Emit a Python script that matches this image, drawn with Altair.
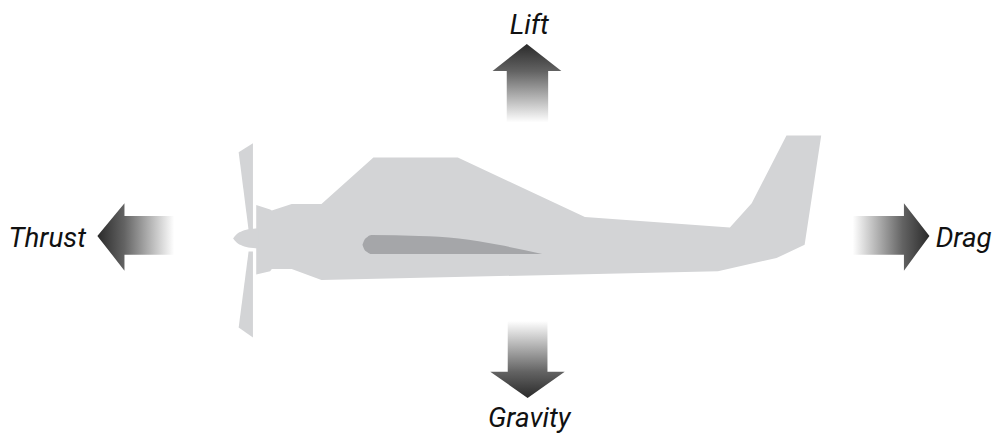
import altair as alt
import pandas as pd

# ---- airplane silhouette outline (light grey), vertices in drawing order (y grows downward)
body_x = [256, 270, 271.7, 291.7, 321.7, 374, 459, 587, 733, 755, 790, 825,
          808.3, 780, 721, 321.7, 291.7, 271.7, 270, 256]
body_y = [205, 209.3, 210.5, 204, 204, 157, 157, 217, 227.5, 203, 135, 135,
          245, 258.3, 271.5, 280.5, 269.3, 269.3, 271.7, 275]

blade_up_x = [238.3, 252.7, 252.7, 248.3]
blade_up_y = [151.7, 142.7, 230, 230]

blade_low_x = [248.3, 252.7, 252.7, 238.3]
blade_low_y = [251.7, 251.7, 338.3, 328.3]

# spinner and wing: x, top edge y, bottom edge y (smooth outlines)
spinner_x = [232.7, 236, 242, 250, 258]
spinner_top = [238.5, 234.5, 231, 229, 228.5]
spinner_bottom = [238.5, 242.5, 246, 248, 248.5]

wing_x = [363, 365, 368, 372, 420, 460, 500, 544]
wing_top = [245, 240, 237, 235.2, 236, 238.5, 245, 254.3]
wing_bottom = [245, 250, 252.5, 254.3, 254.3, 254.3, 254.3, 254.3]

# ---- force arrows (vertices in drawing order)
thrust_x = [96, 123.3, 123.3, 173.3, 173.3, 123.3, 123.3]
thrust_y = [236, 203, 216, 216, 255, 255, 271]

drag_x = [934, 908.3, 908.3, 856.7, 856.7, 908.3, 908.3]
drag_y = [236, 271, 255, 255, 216, 216, 203]

lift_x = [528.5, 563.3, 550, 550, 508.3, 508.3, 494]
lift_y = [42.7, 70, 70, 121.7, 121.7, 70, 70]

gravity_x = [529.3, 491.7, 509.3, 509.3, 549.3, 549.3, 566.7]
gravity_y = [399.3, 372.7, 372.7, 321.7, 321.7, 372.7, 372.7]

# ---- labels
labels = ["Lift", "Thrust", "Drag", "Gravity"]
label_x = [531, 45.5, 968.5, 531]
label_y = [33, 247, 247, 428]

PLANE = "#d3d4d6"
WING = "#a5a6a9"
DARK = "#2a2a2a"
MID = "#636363"

XS = alt.Scale(domain=[8, 992], nice=False, zero=False)
YS = alt.Scale(domain=[8, 435], nice=False, zero=False, reverse=True)


def polygon(parts, fill):
    rows = []
    for name, xs, ys in parts:
        for k, (a, b) in enumerate(zip(xs, ys)):
            rows.append({"part": name, "x": a, "y": b, "i": k})
    df = pd.DataFrame(rows)
    return alt.Chart(df).mark_line(fill=fill, stroke="#000000", strokeOpacity=0).encode(
        x=alt.X("x:Q", scale=XS, axis=None),
        y=alt.Y("y:Q", scale=YS, axis=None),
        detail="part:N",
        order="i:Q",
    )


def band(x, top, bottom, fill):
    df = pd.DataFrame({"x": x, "top": top, "bottom": bottom})
    return alt.Chart(df).mark_area(fill=fill, interpolate="monotone").encode(
        x=alt.X("x:Q", scale=XS, axis=None),
        y=alt.Y("top:Q", scale=YS, axis=None),
        y2="bottom:Q",
    )


def grad(stops, x1, y1, x2, y2):
    return alt.Gradient(
        gradient="linear",
        stops=[alt.GradientStop(color=c, offset=o) for o, c in stops],
        x1=x1, y1=y1, x2=x2, y2=y2,
    )


thrust_grad = grad([(0, DARK), (0.35, MID), (1, "#ffffff")], 0, 0, 1, 0)
drag_grad = grad([(0, "#ffffff"), (0.65, MID), (1, DARK)], 0, 0, 1, 0)
lift_grad = grad([(0, DARK), (0.35, MID), (1, "#ffffff")], 0, 0, 0, 1)
gravity_grad = grad([(0, "#ffffff"), (0.66, MID), (1, DARK)], 0, 0, 0, 1)

text_df = pd.DataFrame({"label": labels, "x": label_x, "y": label_y})
text = alt.Chart(text_df).mark_text(
    font="Roboto",
    fontSize=28,
    fontStyle="italic",
    align="center",
    baseline="alphabetic",
    color="#111111",
).encode(
    x=alt.X("x:Q", scale=XS, axis=None),
    y=alt.Y("y:Q", scale=YS, axis=None),
    text="label:N",
)

chart = alt.layer(
    polygon([("body", body_x, body_y), ("blade_up", blade_up_x, blade_up_y),
             ("blade_low", blade_low_x, blade_low_y)], PLANE),
    band(spinner_x, spinner_top, spinner_bottom, PLANE),
    band(wing_x, wing_top, wing_bottom, WING),
    polygon([("thrust", thrust_x, thrust_y)], thrust_grad),
    polygon([("drag", drag_x, drag_y)], drag_grad),
    polygon([("lift", lift_x, lift_y)], lift_grad),
    polygon([("gravity", gravity_x, gravity_y)], gravity_grad),
    text,
).properties(width=984, height=427, padding=0).configure_view(stroke=None)

chart.save("out.html", embed_options={"renderer": "svg", "actions": False})
